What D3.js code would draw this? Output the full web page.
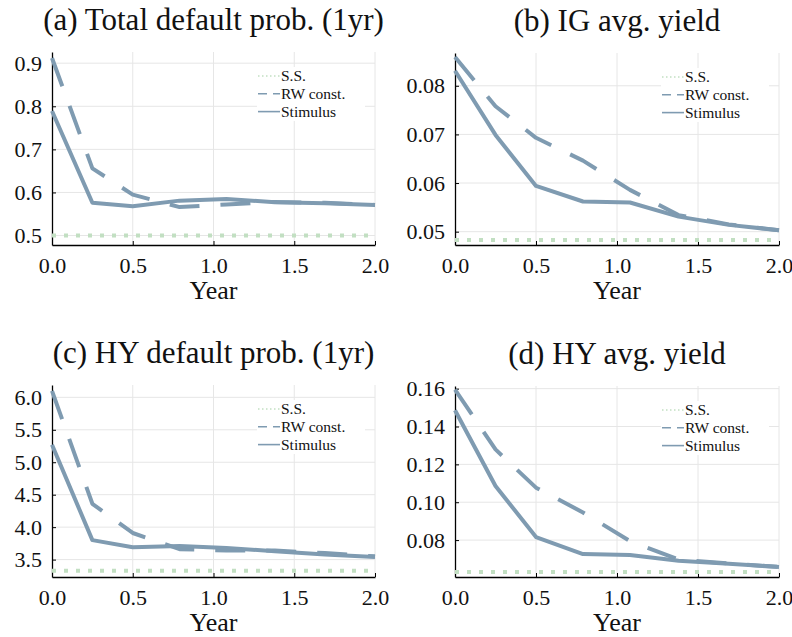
<!DOCTYPE html>
<html>
<head>
<meta charset="utf-8">
<script src="https://cdn.jsdelivr.net/npm/d3@7"></script>
<style>
  html, body { margin: 0; padding: 0; background: #fff; }
  svg { display: block; }
  svg text { font-family: "Liberation Serif", "Times New Roman", serif !important; fill: #111; }
</style>
</head>
<body>
<svg id="chart" width="792" height="637"></svg>
<script>
// Simulation horizon (years) shared by all panels
const years = [0, 0.25, 0.5, 0.79, 1.08, 1.38, 1.69, 2.0];
const xTicks = [0, 0.5, 1.0, 1.5, 2.0];
const seriesNames = ["S.S.", "RW const.", "Stimulus"];

// (a) Total default prob. (1yr)
const totalDefaultStimulus = [0.789, 0.576, 0.568, 0.581, 0.585, 0.577, 0.575, 0.571];
const totalDefaultRW       = [0.912, 0.656, 0.595, 0.566, 0.572, 0.578, 0.576, 0.571];
const totalDefaultSS       = 0.5;
const totalDefaultTicks    = [0.5, 0.6, 0.7, 0.8, 0.9];

// (b) IG avg. yield
const igYieldStimulus = [0.0831, 0.0699, 0.0594, 0.0562, 0.0560, 0.0531, 0.0514, 0.0503];
const igYieldRW       = [0.0859, 0.0758, 0.0693, 0.0646, 0.0586, 0.0534, 0.0515, 0.0503];
const igYieldSS       = 0.0483;
const igYieldTicks    = [0.05, 0.06, 0.07, 0.08];

// (c) HY default prob. (1yr)
const hyDefaultStimulus = [5.27, 3.80, 3.69, 3.71, 3.68, 3.63, 3.58, 3.54];
const hyDefaultRW       = [6.10, 4.36, 3.91, 3.66, 3.64, 3.64, 3.60, 3.55];
const hyDefaultSS       = 3.33;
const hyDefaultTicks    = [3.5, 4.0, 4.5, 5.0, 5.5, 6.0];

// (d) HY avg. yield
const hyYieldStimulus = [0.1486, 0.1086, 0.0816, 0.0726, 0.0721, 0.0691, 0.0675, 0.0658];
const hyYieldRW       = [0.1595, 0.1279, 0.1077, 0.0946, 0.0795, 0.0697, 0.0676, 0.0658];
const hyYieldSS       = 0.0632;
const hyYieldTicks    = [0.08, 0.10, 0.12, 0.14, 0.16];

const lineColor = "#7f9bb1";
const ssColor = "#c2dfc2";
const gridColor = "#e6e6e6";
const serif = "'Liberation Serif', 'Times New Roman', serif";

const panels = [
  { title: "(a) Total default prob. (1yr)", stim: totalDefaultStimulus, rw: totalDefaultRW, ss: totalDefaultSS,
    ticks: totalDefaultTicks, fmt: ".1f", domain: [0.478, 0.926], box: { l: 52, r: 375, t: 52, b: 245 } },
  { title: "(b) IG avg. yield", stim: igYieldStimulus, rw: igYieldRW, ss: igYieldSS,
    ticks: igYieldTicks, fmt: ".2f", domain: [0.04726, 0.08674], box: { l: 455, r: 779, t: 53, b: 245 } },
  { title: "(c) HY default prob. (1yr)", stim: hyDefaultStimulus, rw: hyDefaultRW, ss: hyDefaultSS,
    ticks: hyDefaultTicks, fmt: ".1f", domain: [3.232, 6.19], box: { l: 52, r: 375, t: 385, b: 577 } },
  { title: "(d) HY avg. yield", stim: hyYieldStimulus, rw: hyYieldRW, ss: hyYieldSS,
    ticks: hyYieldTicks, fmt: ".2f", domain: [0.0605, 0.1614], box: { l: 455, r: 779, t: 386, b: 577 } }
];

const svg = d3.select("#chart");

panels.forEach(p => {
  const { l, r, t, b } = p.box;
  const x = d3.scaleLinear().domain([0, 2]).range([l, r]);
  const y = d3.scaleLinear().domain(p.domain).range([b, t]);
  const g = svg.append("g");

  // grid
  g.append("g").selectAll("line").data(xTicks.slice(1)).join("line")
    .attr("x1", d => x(d)).attr("x2", d => x(d)).attr("y1", t).attr("y2", b)
    .attr("stroke", gridColor).attr("stroke-width", 1);
  g.append("g").selectAll("line").data(p.ticks).join("line")
    .attr("x1", l).attr("x2", r).attr("y1", d => y(d)).attr("y2", d => y(d))
    .attr("stroke", gridColor).attr("stroke-width", 1);

  // axes (ticks pointing inward)
  const xAxis = d3.axisBottom(x).tickValues(xTicks).tickFormat(d3.format(".1f"))
    .tickSizeInner(-4).tickSizeOuter(0).tickPadding(12);
  const gx = g.append("g").attr("transform", `translate(0,${b})`).call(xAxis)
    .attr("font-family", null).attr("font-size", null);
  gx.select(".domain").attr("stroke", "#000").attr("stroke-width", 1.3);
  gx.selectAll(".tick line").attr("stroke", "#000").attr("stroke-width", 1);
  gx.selectAll(".tick text").style("font-size", "22px").style("font-family", serif).attr("fill", "#111");

  const yAxis = d3.axisLeft(y).tickValues(p.ticks).tickFormat(d3.format(p.fmt))
    .tickSizeInner(-4).tickSizeOuter(0).tickPadding(10);
  const gy = g.append("g").attr("transform", `translate(${l},0)`).call(yAxis)
    .attr("font-family", null).attr("font-size", null);
  gy.select(".domain").attr("stroke", "#000").attr("stroke-width", 1.3);
  gy.selectAll(".tick line").attr("stroke", "#000").attr("stroke-width", 1);
  gy.selectAll(".tick text").style("font-size", "22px").style("font-family", serif).attr("fill", "#111");

  // series
  const line = d3.line().x((d, i) => x(years[i])).y(d => y(d));
  g.append("path").datum(years.map(() => p.ss)).attr("d", line)
    .attr("fill", "none").attr("stroke", ssColor).attr("stroke-width", 4)
    .attr("stroke-dasharray", "4,8");
  g.append("path").datum(p.rw).attr("d", line)
    .attr("fill", "none").attr("stroke", lineColor).attr("stroke-width", 4)
    .attr("stroke-dasharray", "30,21").attr("stroke-linejoin", "round");
  g.append("path").datum(p.stim).attr("d", line)
    .attr("fill", "none").attr("stroke", lineColor).attr("stroke-width", 4)
    .attr("stroke-linejoin", "round");

  // legend
  const lg = g.append("g").attr("transform", `translate(${r - 118},${t + 15})`);
  lg.append("rect").attr("x", 0).attr("y", 0).attr("width", 108).attr("height", 54).attr("fill", "#fff");
  const styles = [
    { stroke: ssColor, dash: "1.5,2.5" },
    { stroke: lineColor, dash: "9,6" },
    { stroke: lineColor, dash: null }
  ];
  seriesNames.forEach((name, i) => {
    const cy = 9 + i * 17.8;
    lg.append("line").attr("x1", 1).attr("x2", 23).attr("y1", cy).attr("y2", cy)
      .attr("stroke", styles[i].stroke).attr("stroke-width", 1.6)
      .attr("stroke-dasharray", styles[i].dash);
    lg.append("text").attr("x", 24).attr("y", cy).attr("dy", "0.35em")
      .style("font-size", "15.5px").style("font-family", serif).text(name);
  });

  // titles
  svg.append("text").attr("x", (l + r) / 2).attr("y", t - 22).attr("text-anchor", "middle")
    .style("font-size", "31px").style("font-family", serif).text(p.title);
  svg.append("text").attr("x", (l + r) / 2).attr("y", b + 54).attr("text-anchor", "middle")
    .style("font-size", "26px").style("font-family", serif).text("Year");
});
</script>
</body>
</html>
